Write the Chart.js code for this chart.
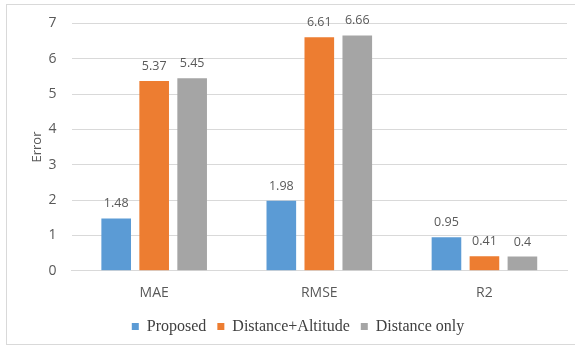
<!DOCTYPE html>
<html lang="en">
<head>
<meta charset="UTF-8">
<title>Error chart</title>
<script src="https://cdn.jsdelivr.net/npm/chart.js"></script>
<style>
  body { margin: 0; background: #fff; }
  #frame { position: absolute; left: 6px; top: 4px; width: 575px; height: 341px; border: 1px solid #d9d9d9; box-sizing: border-box; }
  #wrap { position: absolute; left: 0; top: 0; width: 575px; height: 349px; }
</style>
</head>
<body>
<div id="frame"></div>
<div id="wrap"><canvas id="myChart"></canvas></div>
<script>
  // categories and series
  const categorias = ['MAE', 'RMSE', 'R2'];
  const proposed = [1.48, 1.98, 0.95];
  const distAlt = [5.37, 6.61, 0.41];
  const distOnly = [5.45, 6.66, 0.4];
  const yTicks = [0, 1, 2, 3, 4, 5, 6, 7];

  // draws the value above each bar
  const rotulos = {
    id: 'rotulos',
    afterDatasetsDraw(chart) {
      const c = chart.ctx;
      c.save();
      c.font = '12.5px "Open Sans"';
      c.fillStyle = '#595959';
      c.textAlign = 'center';
      c.textBaseline = 'alphabetic';
      chart.data.datasets.forEach(function (ds, i) {
        chart.getDatasetMeta(i).data.forEach(function (bar, j) {
          c.fillText(ds.data[j], bar.x, bar.y - 11);
        });
      });
      c.restore();
    }
  };

  const ctx = document.getElementById('myChart');
  new Chart(ctx, {
    type: 'bar',
    data: {
      labels: categorias,
      datasets: [
        { label: 'Proposed', data: proposed, backgroundColor: '#5b9bd5' },
        { label: 'Distance+Altitude', data: distAlt, backgroundColor: '#ed7d31' },
        { label: 'Distance only', data: distOnly, backgroundColor: '#a5a5a5' }
      ]
    },
    options: {
      responsive: true,
      maintainAspectRatio: false,
      animation: false,
      categoryPercentage: 0.69,
      barPercentage: 0.78,
      layout: { padding: { left: 29, right: 8, top: 9, bottom: 4.5 } },
      plugins: {
        tooltip: { enabled: false },
        legend: {
          position: 'bottom',
          labels: {
            boxWidth: 7, boxHeight: 7, padding: 11,
            color: '#404040',
            font: { family: '"Liberation Serif"', size: 16 }
          }
        }
      },
      scales: {
        x: {
          grid: { display: false },
          border: { color: '#d9d9d9' },
          ticks: { color: '#595959', font: { family: '"Open Sans"', size: 14 }, padding: 6 }
        },
        y: {
          min: 0, max: 7,
          afterBuildTicks(axis) { axis.ticks = yTicks.map(v => ({ value: v })); },
          border: { display: false },
          grid: { color: '#d9d9d9', drawTicks: false },
          ticks: { color: '#595959', font: { family: '"Open Sans"', size: 14 }, padding: 15 },
          title: { display: true, text: 'Error', color: '#595959', padding: { top: 0, bottom: -11 },
                   font: { family: '"Open Sans"', size: 13 } }
        }
      }
    },
    plugins: [rotulos]
  });
</script>
</body>
</html>
